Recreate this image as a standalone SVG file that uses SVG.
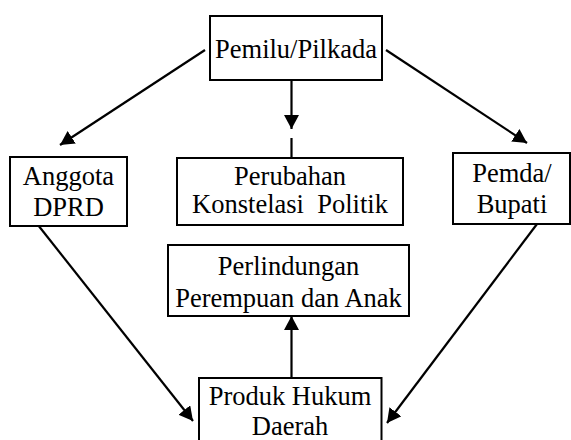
<svg xmlns="http://www.w3.org/2000/svg" width="571" height="440" viewBox="0 0 571 440">
<style>
rect{fill:#fff;stroke:#000;stroke-width:2}
text{font-family:'Liberation Serif','DejaVu Serif',serif;font-size:26.5px;fill:#000;text-anchor:middle}
.c line{stroke:#000;stroke-width:2.2}
</style>
<defs>
<marker id="ah" markerUnits="userSpaceOnUse" markerWidth="16" markerHeight="16" refX="14" refY="7.5" orient="auto">
<path d="M0,0 L14,7.5 L0,15 z" fill="#000"/>
</marker>
</defs>
<g class="c" id="connectors">
<line x1="205" y1="50" x2="60" y2="145" marker-end="url(#ah)"/>
<line x1="386" y1="50" x2="527" y2="143" marker-end="url(#ah)"/>
<line x1="291.5" y1="80" x2="291.5" y2="129" marker-end="url(#ah)"/>
<line x1="291.5" y1="138" x2="291.5" y2="158"/>
<line x1="38" y1="225" x2="193" y2="421" marker-end="url(#ah)"/>
<line x1="537" y1="224" x2="387" y2="423" marker-end="url(#ah)"/>
<line x1="291.5" y1="378" x2="291.5" y2="316" marker-end="url(#ah)"/>
</g>
<g font-family="'Liberation Serif', 'DejaVu Serif', serif">
<g id="pemilu">
<rect x="210" y="16" width="172" height="64"/>
<text x="296" y="58" font-family="Liberation Serif">Pemilu/Pilkada</text>
</g>
<g id="anggota">
<rect x="10" y="157" width="117" height="69"/>
<text x="68.5" y="185" font-family="Liberation Serif">Anggota</text>
<text x="68.5" y="216" font-family="Liberation Serif">DPRD</text>
</g>
<g id="perubahan">
<rect x="177" y="158" width="226" height="67"/>
<text x="290" y="185" font-family="Liberation Serif">Perubahan</text>
<text x="290" y="213" font-family="Liberation Serif" xml:space="preserve">Konstelasi  Politik</text>
</g>
<g id="pemda">
<rect x="453" y="153" width="117" height="71"/>
<text x="512" y="182" font-family="Liberation Serif">Pemda/</text>
<text x="512" y="213" font-family="Liberation Serif">Bupati</text>
</g>
<g id="perlindungan">
<rect x="168" y="245" width="241" height="71"/>
<text x="288.5" y="275" font-family="Liberation Serif">Perlindungan</text>
<text x="288.5" y="306.5" font-family="Liberation Serif">Perempuan dan Anak</text>
</g>
<g id="produk">
<rect x="199" y="378" width="182.5" height="70"/>
<text x="290" y="405" font-family="Liberation Serif">Produk Hukum</text>
<text x="290" y="435" font-family="Liberation Serif">Daerah</text>
</g>
</g>
</svg>
